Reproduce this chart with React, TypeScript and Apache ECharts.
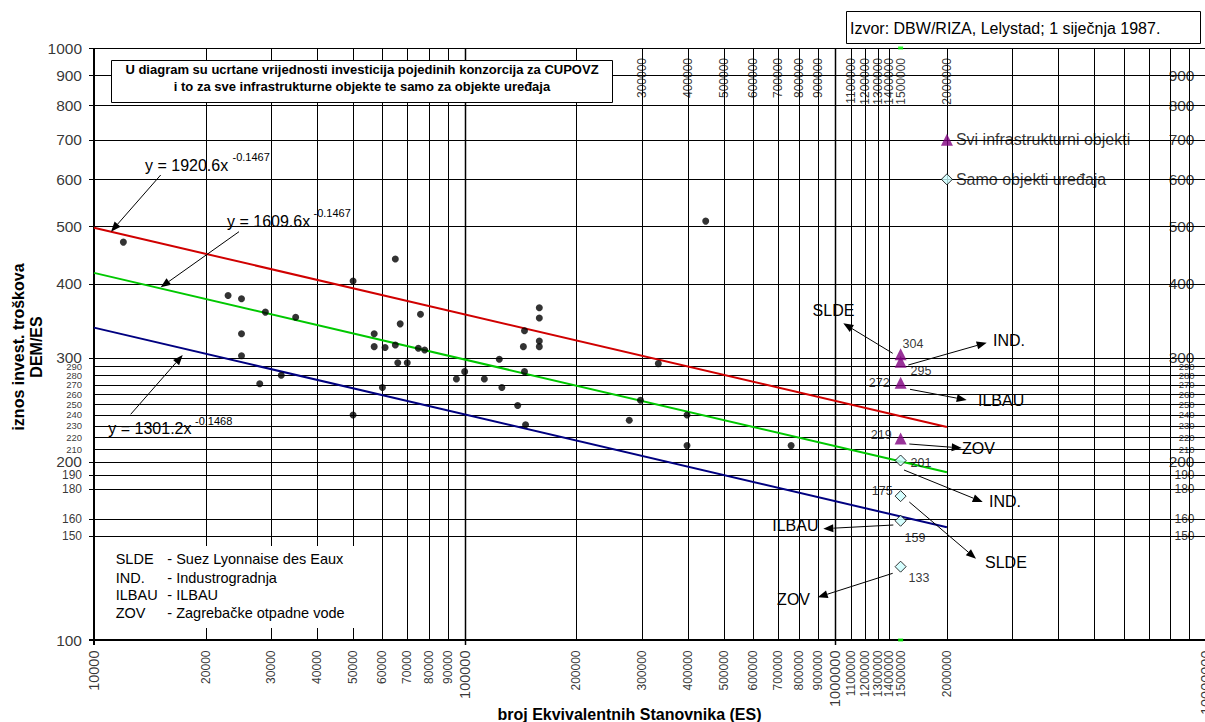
import React, { useEffect, useRef } from 'react';
import * as echarts from 'echarts';

const FONT = '"Liberation Sans", Arial, sans-serif';

// ---------- data ----------
const dotX = [12000, 23000, 25000, 29000, 35000, 25000, 25000, 28000, 32000, 50000, 50000, 65000, 67000, 57000, 57000, 61000, 65000, 66000, 70000, 60000, 76000, 75000, 78000, 95000, 100000, 113000, 124000, 126000, 139000, 146000, 145000, 144000, 145000, 159000, 159000, 159000, 159000, 447000, 333000, 298000, 278000, 398000, 398000, 760000];
const dotY = [470, 382, 377, 358, 351, 329, 302, 271, 280, 404, 240, 440, 342, 329, 313, 312, 315, 294, 294, 267, 355, 311, 309, 276, 284, 276, 298, 267, 249, 231, 333, 313, 284, 364, 350, 320, 313, 510, 293, 254, 235, 240, 213, 213];

const markerX = 1500000;
const triangleValues = [304, 295, 272, 219];
const diamondValues = [201, 175, 159, 133];

const trendRed = [[10000, 497], [2000000, 229]];
const trendGreen = [[10000, 417], [2000000, 192]];
const trendNavy = [[10000, 337], [2000000, 155]];

const legendX = 2000000;
const legendTriY = 700;
const legendDiaY = 600;
const legendTriText = 'Svi infrastrukturni objekti';
const legendDiaText = 'Samo objekti uređaja';

const greenMarkY = [1000, 100];

const hGrid = [1000, 900, 800, 700, 600, 500, 400, 300, 290, 280, 270, 260, 250, 240, 230, 220, 210, 200, 190, 180, 160, 150, 100];
const vGrid = [10000, 20000, 30000, 40000, 50000, 60000, 70000, 80000, 90000, 100000, 200000, 300000, 400000, 500000, 600000, 700000, 800000, 900000, 1000000, 1100000, 1200000, 1300000, 1400000, 2000000, 3000000, 4000000, 5000000, 6000000, 7000000, 8000000, 9000000];

const yLabelsLeft = [1000, 900, 800, 700, 600, 500, 400, 300, 290, 280, 270, 260, 250, 240, 230, 220, 210, 200, 190, 180, 160, 150, 100];
const yLabelsRight = [900, 800, 700, 600, 500, 400, 300, 290, 280, 270, 260, 250, 240, 230, 220, 210, 200, 190, 180, 160, 150];
const yLabelsBig = [1000, 900, 800, 700, 600, 500, 400, 300, 200, 100];
const yLabelsMid = [190, 180, 160, 150];

const xLabelsBottom = [10000, 20000, 30000, 40000, 50000, 60000, 70000, 80000, 90000, 100000, 200000, 300000, 400000, 500000, 600000, 700000, 800000, 900000, 1000000, 1100000, 1200000, 1300000, 1400000, 1500000, 2000000, 10000000];
const xLabelsBig = [10000, 100000, 1000000, 10000000];
const xLabelsTop = [300000, 400000, 500000, 600000, 700000, 800000, 900000, 1100000, 1200000, 1300000, 1400000, 1500000, 2000000];

// ---------- layout / styles ----------
const hTickValues = [1000, 900, 800, 700, 600, 500, 400, 300, 200, 190, 180, 160, 150, 100];
const vTickValues = [10000, 100000, 1000000];
const triLabelLayout: [string, number, number][] = [['left', 2, -10], ['left', 10, 9], ['right', -11, 0], ['right', -9, -3]];
const diaLabelLayout: [string, number, number][] = [['left', 10, 2], ['right', -8, -5], ['left', 4, 17], ['left', 8, 11]];

const arrows = [
  [160.7, 175, 111, 231.7],
  [239, 231.7, 160.7, 287.3],
  [130.7, 414.3, 182.7, 355],
  [892.7, 353.3, 843.3, 323.3],
  [908.3, 365, 986.7, 342.7],
  [910, 389.3, 966.7, 400],
  [909.3, 444, 961.7, 448],
  [904, 470, 982.7, 502],
  [909.3, 502, 976, 558.7],
  [893.3, 525, 823.3, 528.7],
  [892.7, 573.3, 817.7, 597.3],
];

const annotTexts: [string, number, number, string][] = [
  ['SLDE', 833.5, 310, 'center'],
  ['IND.', 993, 340, 'left'],
  ['ILBAU', 978, 400, 'left'],
  ['ZOV', 962, 448, 'left'],
  ['IND.', 989, 501, 'left'],
  ['SLDE', 985, 562, 'left'],
  ['ILBAU', 818.5, 525, 'right'],
  ['ZOV', 810, 599, 'right'],
];

const eqTexts: [string, string, number, number, number, number][] = [
  ['y = 1920.6x', '-0.1467', 145, 165.7, 232.5, 157],
  ['y = 1609.6x', '-0.1467', 227, 221, 313.5, 213],
  ['y = 1301.2x', '-0.1468', 108.3, 428.3, 195, 421],
];

const legendRows: [string, string][] = [
  ['SLDE', '- Suez Lyonnaise des Eaux'],
  ['IND.', '- Industrogradnja'],
  ['ILBAU', '- ILBAU'],
  ['ZOV', '- Zagrebačke otpadne vode'],
];

function txt(text: string, x: number, y: number, size: number, align = 'left', bold = false, extra: any = {}) {
  return {
    type: 'text', z: 20, silent: true, x, y,
    style: { text, fontSize: size, fontFamily: FONT, fontWeight: bold ? 'bold' : 'normal', fill: '#000', align, verticalAlign: 'middle' },
    ...extra,
  };
}

function arrow(x1: number, y1: number, x2: number, y2: number) {
  const dx = x2 - x1, dy = y2 - y1;
  const len = Math.hypot(dx, dy);
  const ux = dx / len, uy = dy / len;
  const L = 10, W = 4;
  const bx = x2 - ux * L, by = y2 - uy * L;
  return [
    { type: 'line', z: 20, silent: true, shape: { x1, y1, x2: bx, y2: by }, style: { stroke: '#000', lineWidth: 1 } },
    { type: 'polygon', z: 20, silent: true, shape: { points: [[x2, y2], [bx - uy * W, by + ux * W], [bx + uy * W, by - ux * W]] }, style: { fill: '#000' } },
  ];
}

function labelSeries(data: any[], label: any) {
  return {
    type: 'scatter', silent: true, clip: false, z: 6,
    symbolSize: 1, itemStyle: { color: 'rgba(0,0,0,0)' },
    data,
    label: { show: true, color: '#000', fontFamily: FONT, ...label },
  };
}

function ySize(v: number) {
  if (yLabelsBig.includes(v)) return 15.5;
  if (yLabelsMid.includes(v)) return 12;
  return 9.5;
}

function buildOption() {
  const graphic: any[] = [];
  // top info box
  graphic.push({ type: 'rect', z: 15, silent: true, shape: { x: 111.5, y: 60.5, width: 501, height: 42 }, style: { fill: '#fff', stroke: '#000', lineWidth: 1 } });
  graphic.push(txt('U diagram su ucrtane vrijednosti investicija pojedinih konzorcija za CUPOVZ', 362, 69.5, 13, 'center', true));
  graphic.push(txt('i to za sve infrastrukturne objekte te samo za objekte uređaja', 362, 86.5, 13, 'center', true));
  // source box
  graphic.push({ type: 'rect', z: 15, silent: true, shape: { x: 846.5, y: 11.5, width: 354, height: 32 }, style: { fill: '#fff', stroke: '#000', lineWidth: 1 } });
  graphic.push(txt('Izvor: DBW/RIZA, Lelystad; 1 siječnja 1987.', 850, 28, 16));
  // abbreviations box
  graphic.push({ type: 'rect', z: 15, silent: true, shape: { x: 96, y: 546, width: 280, height: 82 }, style: { fill: '#fff' } });
  const rowsY = [559.3, 577.7, 595.3, 613.3];
  legendRows.forEach((r, i) => {
    graphic.push(txt(r[0], 115.7, rowsY[i], 14.5));
    graphic.push(txt(r[1], 167.3, rowsY[i], 14.5));
  });
  // equations
  eqTexts.forEach((e) => {
    graphic.push(txt(e[0], e[2], e[3], 16));
    graphic.push(txt(e[1], e[4], e[5], 11));
  });
  // annotations
  annotTexts.forEach((a) => graphic.push(txt(a[0], a[1], a[2], 16, a[3])));
  arrows.forEach((a) => graphic.push(...arrow(a[0], a[1], a[2], a[3])));
  // axis titles
  graphic.push(txt('iznos invest. troškova\nDEM/ES', 27.5, 347, 16, 'center', true, { rotation: Math.PI / 2 }));
  graphic[graphic.length - 1].style.lineHeight = 18;
  graphic.push(txt('broj Ekvivalentnih Stanovnika (ES)', 629.5, 714, 16, 'center', true));

  const series: any[] = [];

  // vertical grid lines
  series.push({
    type: 'custom', silent: true, clip: false, z: 1,
    data: vGrid.map((v) => [v, 100]),
    encode: { x: 0, y: 1 },
    renderItem: (params: any, api: any) => {
      const v = api.value(0);
      const cs = params.coordSys;
      const axis = v === 10000;
      const major = vTickValues.includes(v);
      const w = axis ? 2 : major ? 1.5 : 1;
      const px = api.coord([v, 100])[0];
      const x = axis ? Math.round(px) : Math.round(px) + 0.5;
      return {
        type: 'line',
        shape: { x1: x, y1: cs.y, x2: x, y2: cs.y + cs.height + (major ? 5 : 0) },
        style: { stroke: '#000', lineWidth: w },
      };
    },
  });
  // horizontal grid lines
  series.push({
    type: 'custom', silent: true, clip: false, z: 1,
    data: hGrid.map((v) => [10000, v]),
    encode: { x: 0, y: 1 },
    renderItem: (params: any, api: any) => {
      const v = api.value(1);
      const cs = params.coordSys;
      const axis = v === 100;
      const w = axis ? 2 : 1;
      const py = api.coord([10000, v])[1];
      const y = axis ? Math.round(py) : Math.round(py) + 0.5;
      const tick = hTickValues.includes(v) ? 5 : 0;
      return {
        type: 'line',
        shape: { x1: cs.x - tick, y1: y, x2: cs.x + cs.width, y2: y },
        style: { stroke: '#000', lineWidth: w },
      };
    },
  });

  // trend lines
  const trend = (data: number[][], color: string) => ({
    type: 'line', silent: true, z: 3, symbol: 'none', data,
    lineStyle: { color, width: 2 },
  });
  series.push(trend(trendRed, '#d00000'));
  series.push(trend(trendGreen, '#00c800'));
  series.push(trend(trendNavy, '#000080'));

  // scatter dots
  series.push({
    type: 'scatter', silent: true, z: 4, symbol: 'circle', symbolSize: 7,
    itemStyle: { color: '#000' },
    data: dotX.map((x, i) => [x, dotY[i]]),
  });

  // triangles
  series.push({
    type: 'scatter', silent: true, z: 5, symbol: 'triangle', symbolSize: 12, clip: false,
    itemStyle: { color: '#800080' },
    data: triangleValues.map((v, i) => ({
      value: [markerX, v],
      label: {
        show: true, formatter: String(v), position: 'inside', align: triLabelLayout[i][0], verticalAlign: 'middle',
        offset: [triLabelLayout[i][1], triLabelLayout[i][2]], fontSize: 12.5, color: '#000', fontFamily: FONT,
      },
    })),
  });
  // diamonds
  series.push({
    type: 'scatter', silent: true, z: 5, symbol: 'diamond', symbolSize: 11, clip: false,
    itemStyle: { color: '#ccffff', borderColor: '#000', borderWidth: 1 },
    data: diamondValues.map((v, i) => ({
      value: [markerX, v],
      label: {
        show: true, formatter: String(v), position: 'inside', align: diaLabelLayout[i][0], verticalAlign: 'middle',
        offset: [diaLabelLayout[i][1], diaLabelLayout[i][2]], fontSize: 12.5, color: '#000', fontFamily: FONT,
      },
    })),
  });
  // legend markers
  series.push({
    type: 'scatter', silent: true, z: 5, symbol: 'triangle', symbolSize: 12,
    itemStyle: { color: '#800080' },
    data: [[legendX, legendTriY]],
    label: { show: true, position: 'right', distance: 3, formatter: legendTriText, fontSize: 16, color: '#000', fontFamily: FONT },
  });
  series.push({
    type: 'scatter', silent: true, z: 5, symbol: 'diamond', symbolSize: 11,
    itemStyle: { color: '#ccffff', borderColor: '#000', borderWidth: 1 },
    data: [[legendX, legendDiaY]],
    label: { show: true, position: 'right', distance: 3, formatter: legendDiaText, fontSize: 16, color: '#000', fontFamily: FONT },
  });
  // green markers
  series.push({
    type: 'scatter', silent: true, z: 5, symbol: 'rect', symbolSize: [5, 3], clip: false,
    itemStyle: { color: '#00ff00' },
    data: greenMarkY.map((y) => [markerX, y]),
  });

  // tick labels
  series.push(labelSeries(
    yLabelsLeft.map((v) => ({ value: [10000, v], label: { fontSize: ySize(v) } })),
    { position: 'left', distance: 11.5, formatter: (p: any) => String(p.value[1]) },
  ));
  series.push(labelSeries(
    yLabelsRight.map((v) => ({ value: [10000000, v], label: { fontSize: ySize(v) } })),
    { position: 'left', distance: 11, formatter: (p: any) => String(p.value[1]) },
  ));
  series.push(labelSeries(
    xLabelsBottom.map((v) => ({ value: [v, 100], label: { fontSize: xLabelsBig.includes(v) ? 14.5 : 12 } })),
    { position: 'bottom', distance: 10, rotate: 90, align: 'right', verticalAlign: 'middle', formatter: (p: any) => String(p.value[0]) },
  ));
  series.push(labelSeries(
    xLabelsTop.map((v) => ({ value: [v, 1000], label: { fontSize: 12 } })),
    { position: 'bottom', distance: 9.5, rotate: 90, align: 'right', verticalAlign: 'middle', formatter: (p: any) => String(p.value[0]) },
  ));

  return {
    animation: false,
    backgroundColor: '#fff',
    textStyle: { fontFamily: FONT },
    grid: { left: 94, top: 48, width: 1112, height: 592, containLabel: false, outerBoundsMode: 'none' },
    xAxis: {
      type: 'log', logBase: 10, min: 10000, max: 10000000,
      axisLine: { show: false }, axisTick: { show: false }, axisLabel: { show: false }, splitLine: { show: false },
    },
    yAxis: {
      type: 'log', logBase: 10, min: 100, max: 1000,
      axisLine: { show: false }, axisTick: { show: false }, axisLabel: { show: false }, splitLine: { show: false },
    },
    series,
    graphic,
  };
}

export default function App() {
  const ref = useRef<HTMLDivElement>(null);
  useEffect(() => {
    document.body.style.margin = '0';
    const chart = echarts.init(ref.current as HTMLDivElement, null, { renderer: 'svg' });
    chart.setOption(buildOption() as any);
    return () => chart.dispose();
  }, []);
  return <div ref={ref} style={{ width: 1205, height: 722 }} />;
}
